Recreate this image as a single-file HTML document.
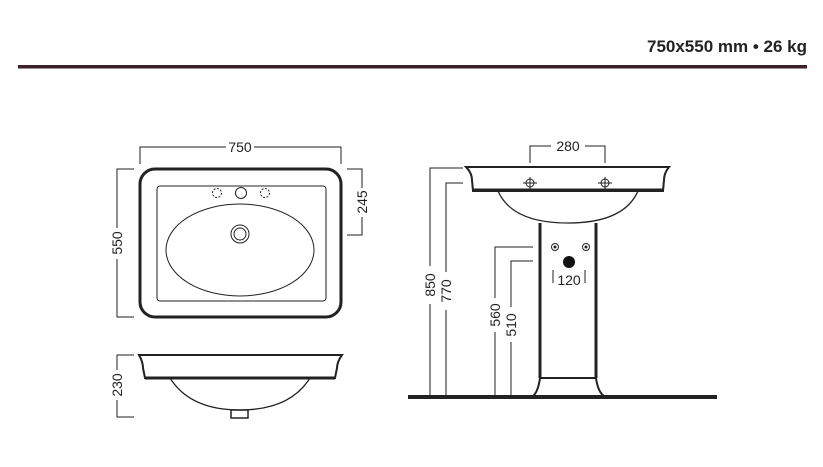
<!DOCTYPE html>
<html><head><meta charset="utf-8"><style>
html,body{margin:0;padding:0;background:#fff;}
svg{display:block;}
text{font-family:"Liberation Sans",Arial,sans-serif;fill:#222;}
</style></head><body>
<svg width="823" height="467" viewBox="0 0 823 467" xmlns="http://www.w3.org/2000/svg">
<text x="807" y="52" text-anchor="end" font-size="17" font-weight="bold">750x550 mm • 26 kg</text>
<rect x="18" y="65" width="789" height="3.5" fill="#3b2228"/>

<g fill="none" stroke="#222">
<!-- top view -->
<rect x="140" y="169" width="201" height="148" rx="15" stroke-width="3"/>
<line x1="341.5" y1="185" x2="341.5" y2="302" stroke-width="2"/>
<rect x="157" y="186" width="169" height="115" rx="3" stroke-width="1"/>
<ellipse cx="240" cy="250" rx="74" ry="46" stroke-width="1"/>
<circle cx="240" cy="234" r="9" stroke-width="1"/>
<circle cx="240" cy="234" r="6" stroke-width="1"/>
<circle cx="217" cy="193" r="4.5" stroke-width="1" stroke-dasharray="2,1.5"/>
<circle cx="241" cy="193" r="5.5" stroke-width="1"/>
<circle cx="265" cy="193" r="4.5" stroke-width="1" stroke-dasharray="2,1.5"/>
<polyline points="140,164 140,147 226,147" stroke-width="1"/>
<polyline points="254,147 341,147 341,164" stroke-width="1"/>
<polyline points="134,169 117,169 117,228" stroke-width="1"/>
<polyline points="117,259 117,317 134,317" stroke-width="1"/>
<polyline points="347,169 362,169 362,188" stroke-width="1"/>
<polyline points="362,217 362,235 347,235" stroke-width="1"/>
<!-- side view -->
<path d="M139,355 L342,355 Q337,362 337,368 L335,378 L145,378 L143,368 Q143,362 139,355 Z" stroke-width="2"/>
<line x1="145" y1="378" x2="335" y2="378" stroke-width="3"/>
<path d="M170,378 Q190,410 240,410 Q290,410 310,378" stroke-width="1.3"/>
<rect x="231" y="410" width="17" height="8" stroke-width="1.5"/>
<polyline points="134,355 117,355 117,370" stroke-width="1"/>
<polyline points="117,400 117,417 134,417" stroke-width="1"/>
<!-- pedestal view -->
<path d="M466,167 L669,167 Q664,173 664,180 L663,191 L473,191 L472,180 Q472,173 466,167 Z" stroke-width="2"/>
<line x1="473" y1="190" x2="663" y2="190" stroke-width="3"/>
<path d="M498,191 Q512,223 568,223 Q624,223 638,191" stroke-width="1.3"/>
<line x1="540" y1="223" x2="540" y2="378" stroke-width="3"/>
<line x1="596" y1="223" x2="596" y2="378" stroke-width="3"/>
<line x1="540" y1="378" x2="596" y2="378" stroke-width="2"/>
<path d="M540,378 Q538,392 533,396" stroke-width="2"/>
<path d="M596,378 Q598,392 604,396" stroke-width="2"/>
<polyline points="530,163 530,146 551,146" stroke-width="1"/>
<polyline points="585,146 605,146 605,163" stroke-width="1"/>
<circle cx="530" cy="183" r="4" stroke-width="1"/>
<line x1="523" y1="183" x2="537" y2="183" stroke-width="1"/><line x1="530" y1="177" x2="530" y2="190" stroke-width="1"/>
<circle cx="605" cy="183" r="4" stroke-width="1"/>
<line x1="598" y1="183" x2="612" y2="183" stroke-width="1"/><line x1="605" y1="177" x2="605" y2="190" stroke-width="1"/>
<circle cx="555" cy="247" r="3.5" stroke-width="1"/>
<circle cx="586" cy="247" r="3.5" stroke-width="1"/>
<line x1="553" y1="270" x2="553" y2="283" stroke-width="1"/>
<line x1="585" y1="270" x2="585" y2="283" stroke-width="1"/>
<polyline points="463,168 430,168 430,266" stroke-width="1"/>
<line x1="430" y1="304" x2="430" y2="397" stroke-width="1"/>
<polyline points="463,183 446,183 446,272" stroke-width="1"/>
<line x1="446" y1="310" x2="446" y2="397" stroke-width="1"/>
<polyline points="533,247 495,247 495,298" stroke-width="1"/>
<line x1="495" y1="332" x2="495" y2="397" stroke-width="1"/>
<polyline points="533,261 511,261 511,307" stroke-width="1"/>
<line x1="511" y1="342" x2="511" y2="397" stroke-width="1"/>
</g>
<circle cx="555" cy="247" r="1.5" fill="#222"/>
<circle cx="586" cy="247" r="1.5" fill="#222"/>
<circle cx="569" cy="262" r="6" fill="#111"/>
<rect x="408" y="395" width="309" height="4" fill="#222"/>

<g font-size="14">
<text x="240" y="152" text-anchor="middle">750</text>
<text x="568" y="151" text-anchor="middle">280</text>
<text x="569" y="285" text-anchor="middle">120</text>
<text transform="translate(122,243) rotate(-90)" text-anchor="middle">550</text>
<text transform="translate(367,202) rotate(-90)" text-anchor="middle">245</text>
<text transform="translate(122,385) rotate(-90)" text-anchor="middle">230</text>
<text transform="translate(435,285) rotate(-90)" text-anchor="middle">850</text>
<text transform="translate(451,291) rotate(-90)" text-anchor="middle">770</text>
<text transform="translate(500,315) rotate(-90)" text-anchor="middle">560</text>
<text transform="translate(516,325) rotate(-90)" text-anchor="middle">510</text>
</g>
</svg>
</body></html>
